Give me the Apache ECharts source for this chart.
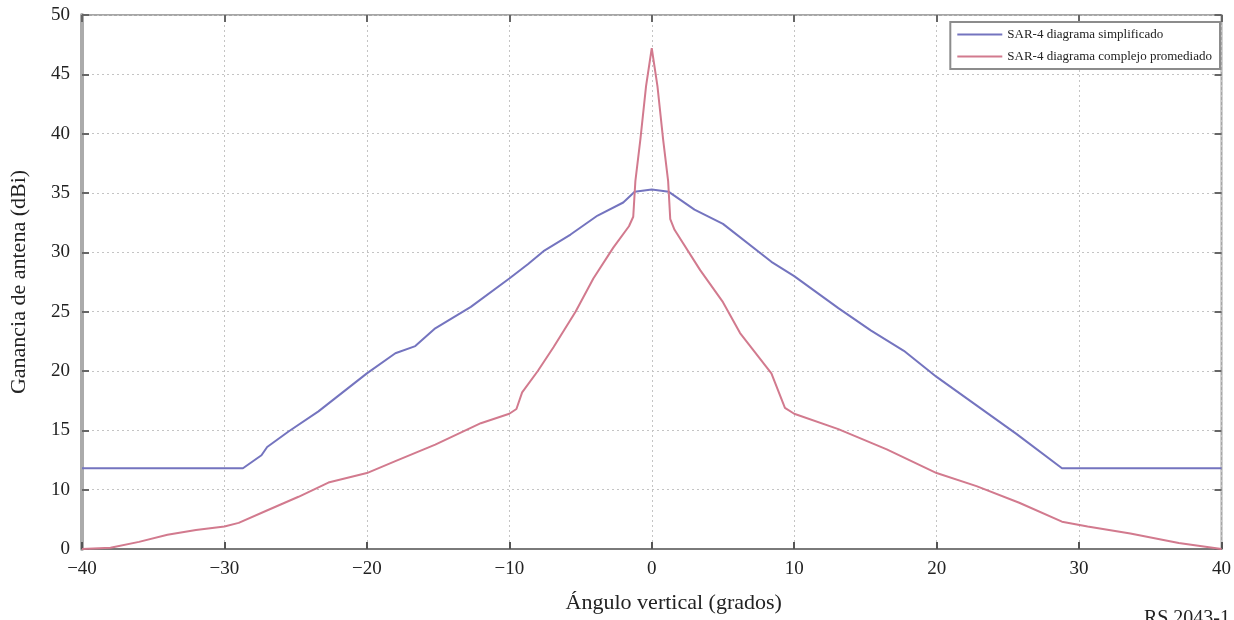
<!DOCTYPE html>
<html>
<head>
<meta charset="utf-8">
<script src="https://cdn.jsdelivr.net/npm/echarts@6/dist/echarts.min.js"></script>
<style>
  html, body { margin: 0; padding: 0; background: #fff; }
  #chart { width: 1234px; height: 620px; }
</style>
</head>
<body>
<div id="chart"></div>
<script>
// SAR-4 diagrama simplificado (azul)
var simpAngle = [-40, -28.7, -27.4, -27.0, -25.5, -23.4, -20, -18, -16.6, -15.2, -12.7, -10, -8.7, -7.6, -5.7, -3.8, -2.0, -1.2, 0, 1.2, 3, 5, 8.4, 10, 13.1, 15.4, 17.7, 20, 22.8, 25.6, 28.8, 40];
var simpGain  = [11.8, 11.8, 12.9, 13.6, 14.9, 16.6, 19.8, 21.5, 22.1, 23.6, 25.4, 27.8, 29.0, 30.1, 31.5, 33.1, 34.2, 35.1, 35.3, 35.1, 33.6, 32.4, 29.2, 28.0, 25.3, 23.4, 21.7, 19.5, 17.1, 14.7, 11.8, 11.8];

// SAR-4 diagrama complejo promediado (rosa)
var compAngle = [-40, -38, -36, -34, -32, -30, -29, -27.1, -24.8, -22.7, -20, -18, -15.2, -12, -10, -9.5, -9.1, -8, -6.9, -5.35, -4.1, -2.7, -1.6, -1.3, -1.15, -0.8, -0.4, 0, 0.4, 0.8, 1.15, 1.3, 1.6, 3.4, 5, 6.2, 8.4, 9.35, 10, 13.1, 16.5, 20, 22.8, 25.8, 28.8, 30.6, 33.6, 37, 40];
var compGain  = [5.0, 5.1, 5.6, 6.2, 6.6, 6.9, 7.2, 8.2, 9.4, 10.6, 11.4, 12.4, 13.8, 15.6, 16.4, 16.8, 18.2, 20.0, 22.0, 25.0, 27.8, 30.4, 32.2, 33.0, 36.0, 39.5, 44.0, 47.2, 44.0, 39.5, 36.0, 32.8, 31.9, 28.5, 25.8, 23.2, 19.8, 16.9, 16.4, 15.1, 13.4, 11.4, 10.3, 8.9, 7.3, 6.9, 6.3, 5.5, 5.0];

var seriesNames = ['SAR-4 diagrama simplificado', 'SAR-4 diagrama complejo promediado'];

function pairs(xs, ys){
	var out = [];
	for(var i=0;i<xs.length;i++){
		out.push([xs[i], ys[i]]);
	}
	return out;
}

var serif = '"Liberation Serif", "DejaVu Serif", serif';

var option = {
	backgroundColor: '#fff',
	animation: false,
	grid: {
		left: 82, right: 10, top: 15, bottom: 71,
		show: true, borderColor: '#a6a6a6', borderWidth: 2
	},
	legend: {
		right: 14, top: 22,
		orient: 'vertical',
		data: seriesNames,
		icon: 'rect',
		itemWidth: 45, itemHeight: 2, itemGap: 9,
		padding: [6, 8, 6, 7],
		borderColor: '#8c8c8c', borderWidth: 2,
		backgroundColor: '#fff',
		textStyle: { fontFamily: serif, fontSize: 13, color: '#222' }
	},
	xAxis: [
		{
			type: 'value', min: -40, max: 40, interval: 10,
			name: 'Ángulo vertical (grados)', nameLocation: 'middle', nameGap: 43,
			nameTextStyle: { fontFamily: serif, fontSize: 22, color: '#222', padding: [0, 0, 0, 44] },
			axisLine: { show: true, onZero: false, lineStyle: { color: '#7a7a7a', width: 2 } },
			axisTick: { show: true, inside: true, length: 7, lineStyle: { color: '#555', width: 2 } },
			axisLabel: {
				fontFamily: serif, fontSize: 19, color: '#222', margin: 11,
				formatter: function(v){ return v < 0 ? '\u2212' + (-v) : String(v); }
			},
			splitLine: { show: true, lineStyle: { color: '#c4c4c4', type: [2, 3], width: 1 } }
		},
		{
			type: 'value', min: -40, max: 40, interval: 10, position: 'top',
			axisLine: { show: false, onZero: false },
			axisTick: { show: true, inside: true, length: 7, lineStyle: { color: '#666', width: 2 } },
			axisLabel: { show: false },
			splitLine: { show: false }
		}
	],
	yAxis: [
		{
			type: 'value', min: 5, max: 50, interval: 5,
			name: 'Ganancia de antena (dBi)', nameLocation: 'middle', nameGap: 52,
			nameTextStyle: { fontFamily: serif, fontSize: 22, color: '#222' },
			axisLine: { show: true, onZero: false, lineStyle: { color: '#ababab', width: 4 } },
			axisTick: { show: true, inside: true, length: 7, lineStyle: { color: '#666', width: 2 } },
			axisLabel: {
				fontFamily: serif, fontSize: 19, color: '#222', margin: 12,
				formatter: function(v){ return v === 5 ? '0' : String(v); }
			},
			splitLine: { show: true, lineStyle: { color: '#c4c4c4', type: [2, 3], width: 1 } }
		},
		{
			type: 'value', min: 5, max: 50, interval: 5, position: 'right',
			axisLine: { show: false, onZero: false },
			axisTick: { show: true, inside: true, length: 7, lineStyle: { color: '#666', width: 2 } },
			axisLabel: { show: false },
			splitLine: { show: false }
		}
	],
	series: [
		{
			name: seriesNames[0], type: 'line', xAxisIndex: 0, yAxisIndex: 0,
			showSymbol: false, symbol: 'none',
			lineStyle: { color: '#7474bf', width: 2 },
			itemStyle: { color: '#7474bf' },
			data: pairs(simpAngle, simpGain)
		},
		{
			name: seriesNames[1], type: 'line', xAxisIndex: 0, yAxisIndex: 0,
			showSymbol: false, symbol: 'none',
			lineStyle: { color: '#d27a8e', width: 2 },
			itemStyle: { color: '#d27a8e' },
			data: pairs(compAngle, compGain)
		}
	],
	graphic: [
		{
			type: 'text', right: 4, top: 609,
			style: { text: 'RS.2043-1', fontFamily: serif, fontSize: 20, fill: '#222' }
		}
	]
};

var mychart = echarts.init(document.getElementById('chart'), null, { renderer: 'canvas' });
mychart.setOption(option);
</script>
</body>
</html>
